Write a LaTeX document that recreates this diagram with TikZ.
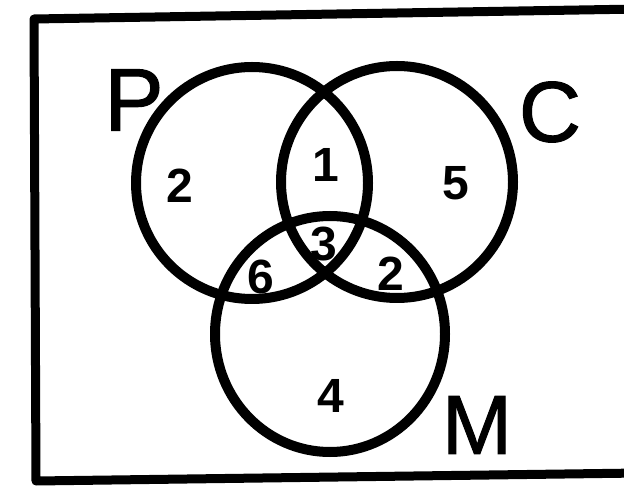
\documentclass[tikz,border=0pt]{standalone}
\usepackage{fontspec}
\setmainfont{Liberation Sans}
\newfontfamily\setletterfont[FakeBold=1.2]{Liberation Sans}
\begin{document}
\begin{tikzpicture}[x=1pt,y=-1pt,
  setcircle/.style={line width=10pt},
  frameline/.style={line width=9pt, line join=round},
  setlabel/.style={font=\setletterfont\fontsize{86}{86}\selectfont, inner sep=0pt},
  numlabel/.style={font=\bfseries\fontsize{48}{48}\selectfont, inner sep=0pt}]
\useasboundingbox (0,0) rectangle (624,486);
\fill[white] (0,0) rectangle (624,486);
\coordinate (tl) at (34,19);
\coordinate (tr) at (640,9);
\coordinate (br) at (640,473);
\coordinate (bl) at (36,481);
\draw[frameline] (tr) -- (tl) -- (bl) -- (br);
\draw[setcircle] (252,183) circle (116);
\draw[setcircle] (397,182) circle (116);
\draw[setcircle] (330,334) ellipse (115 and 118);
\node[setlabel, font=\setletterfont\fontsize{89}{89}\selectfont] (P) at (134,100) {P};
\node[setlabel] (C) at (550,112) {C};
\node[setlabel, font=\setletterfont\fontsize{84}{84}\selectfont] (M) at (477,425) {M};
\node[numlabel] (n2a) at (180,186) {2};
\node[numlabel] (n1) at (326,165) {1};
\node[numlabel] (n5) at (456,183) {5};
\node[numlabel] (n3) at (324,244) {3};
\node[numlabel] (n6) at (261,277) {6};
\node[numlabel] (n2b) at (391,274) {2};
\node[numlabel] (n4) at (331,396) {4};
\end{tikzpicture}
\end{document}
